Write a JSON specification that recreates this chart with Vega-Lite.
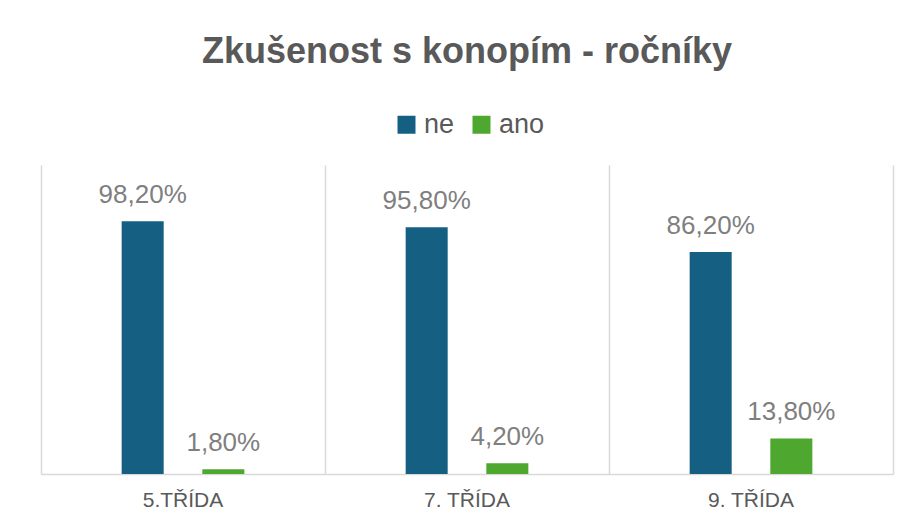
{
  "$schema": "https://vega.github.io/schema/vega-lite/v6.json",
  "width": 852,
  "height": 309,
  "autosize": {"type": "none"},
  "padding": {"left": 41, "top": 165, "right": 17, "bottom": 41},
  "background": "white",
  "config": {
    "view": {"stroke": null},
    "locale": {"number": {"decimal": ",", "thousands": " ", "grouping": [3], "currency": ["", " Kč"]}}
  },
  "title": {
    "text": "Zkušenost s konopím - ročníky",
    "font": "Liberation Sans",
    "fontSize": 36,
    "fontWeight": "bold",
    "color": "#595959",
    "anchor": "middle",
    "offset": 40
  },
  "data": {
    "values": [
      {"trida": "5.TŘÍDA", "odpoved": "ne", "podil": 0.982},
      {"trida": "5.TŘÍDA", "odpoved": "ano", "podil": 0.018},
      {"trida": "7. TŘÍDA", "odpoved": "ne", "podil": 0.958},
      {"trida": "7. TŘÍDA", "odpoved": "ano", "podil": 0.042},
      {"trida": "9. TŘÍDA", "odpoved": "ne", "podil": 0.862},
      {"trida": "9. TŘÍDA", "odpoved": "ano", "podil": 0.138}
    ]
  },
  "encoding": {
    "x": {
      "field": "trida",
      "type": "nominal",
      "sort": ["5.TŘÍDA", "7. TŘÍDA", "9. TŘÍDA"],
      "scale": {"paddingInner": 0, "paddingOuter": 0},
      "axis": {
        "title": null,
        "labelAngle": 0,
        "labelFont": "Liberation Sans",
        "labelFontSize": 21,
        "labelColor": "#595959",
        "labelPadding": 15,
        "ticks": false,
        "domain": true,
        "domainColor": "#d9d9d9",
        "domainWidth": 1.5,
        "grid": true,
        "gridColor": "#d9d9d9",
        "gridWidth": 1.5,
        "bandPosition": 0
      }
    },
    "xOffset": {
      "field": "odpoved",
      "type": "nominal",
      "sort": ["ne", "ano"],
      "scale": {"paddingInner": 0.479, "paddingOuter": 1.185}
    },
    "y": {
      "field": "podil",
      "type": "quantitative",
      "scale": {"domain": [0, 1.2], "nice": false},
      "axis": {
        "orient": "right",
        "title": null,
        "labels": false,
        "ticks": false,
        "grid": false,
        "domain": true,
        "domainColor": "#d9d9d9",
        "domainWidth": 1.5
      }
    }
  },
  "layer": [
    {
      "mark": {"type": "bar"},
      "encoding": {
        "color": {
          "field": "odpoved",
          "type": "nominal",
          "scale": {"domain": ["ne", "ano"], "range": ["#156082", "#4EA72E"]},
          "legend": {
            "title": null,
            "orient": "none",
            "direction": "horizontal",
            "legendX": 352,
            "legendY": -54,
            "symbolType": "square",
            "symbolSize": 324,
            "symbolStrokeWidth": 0,
            "symbolOpacity": 1,
            "labelFont": "Liberation Sans",
            "labelFontSize": 27,
            "labelColor": "#595959",
            "labelOffset": 4,
            "columnPadding": 13
          }
        }
      }
    },
    {
      "mark": {
        "type": "text",
        "baseline": "alphabetic",
        "dy": -18,
        "font": "Liberation Sans",
        "fontSize": 26,
        "color": "#7f7f7f"
      },
      "encoding": {
        "text": {"field": "podil", "type": "quantitative", "format": ".2%"}
      }
    }
  ]
}
